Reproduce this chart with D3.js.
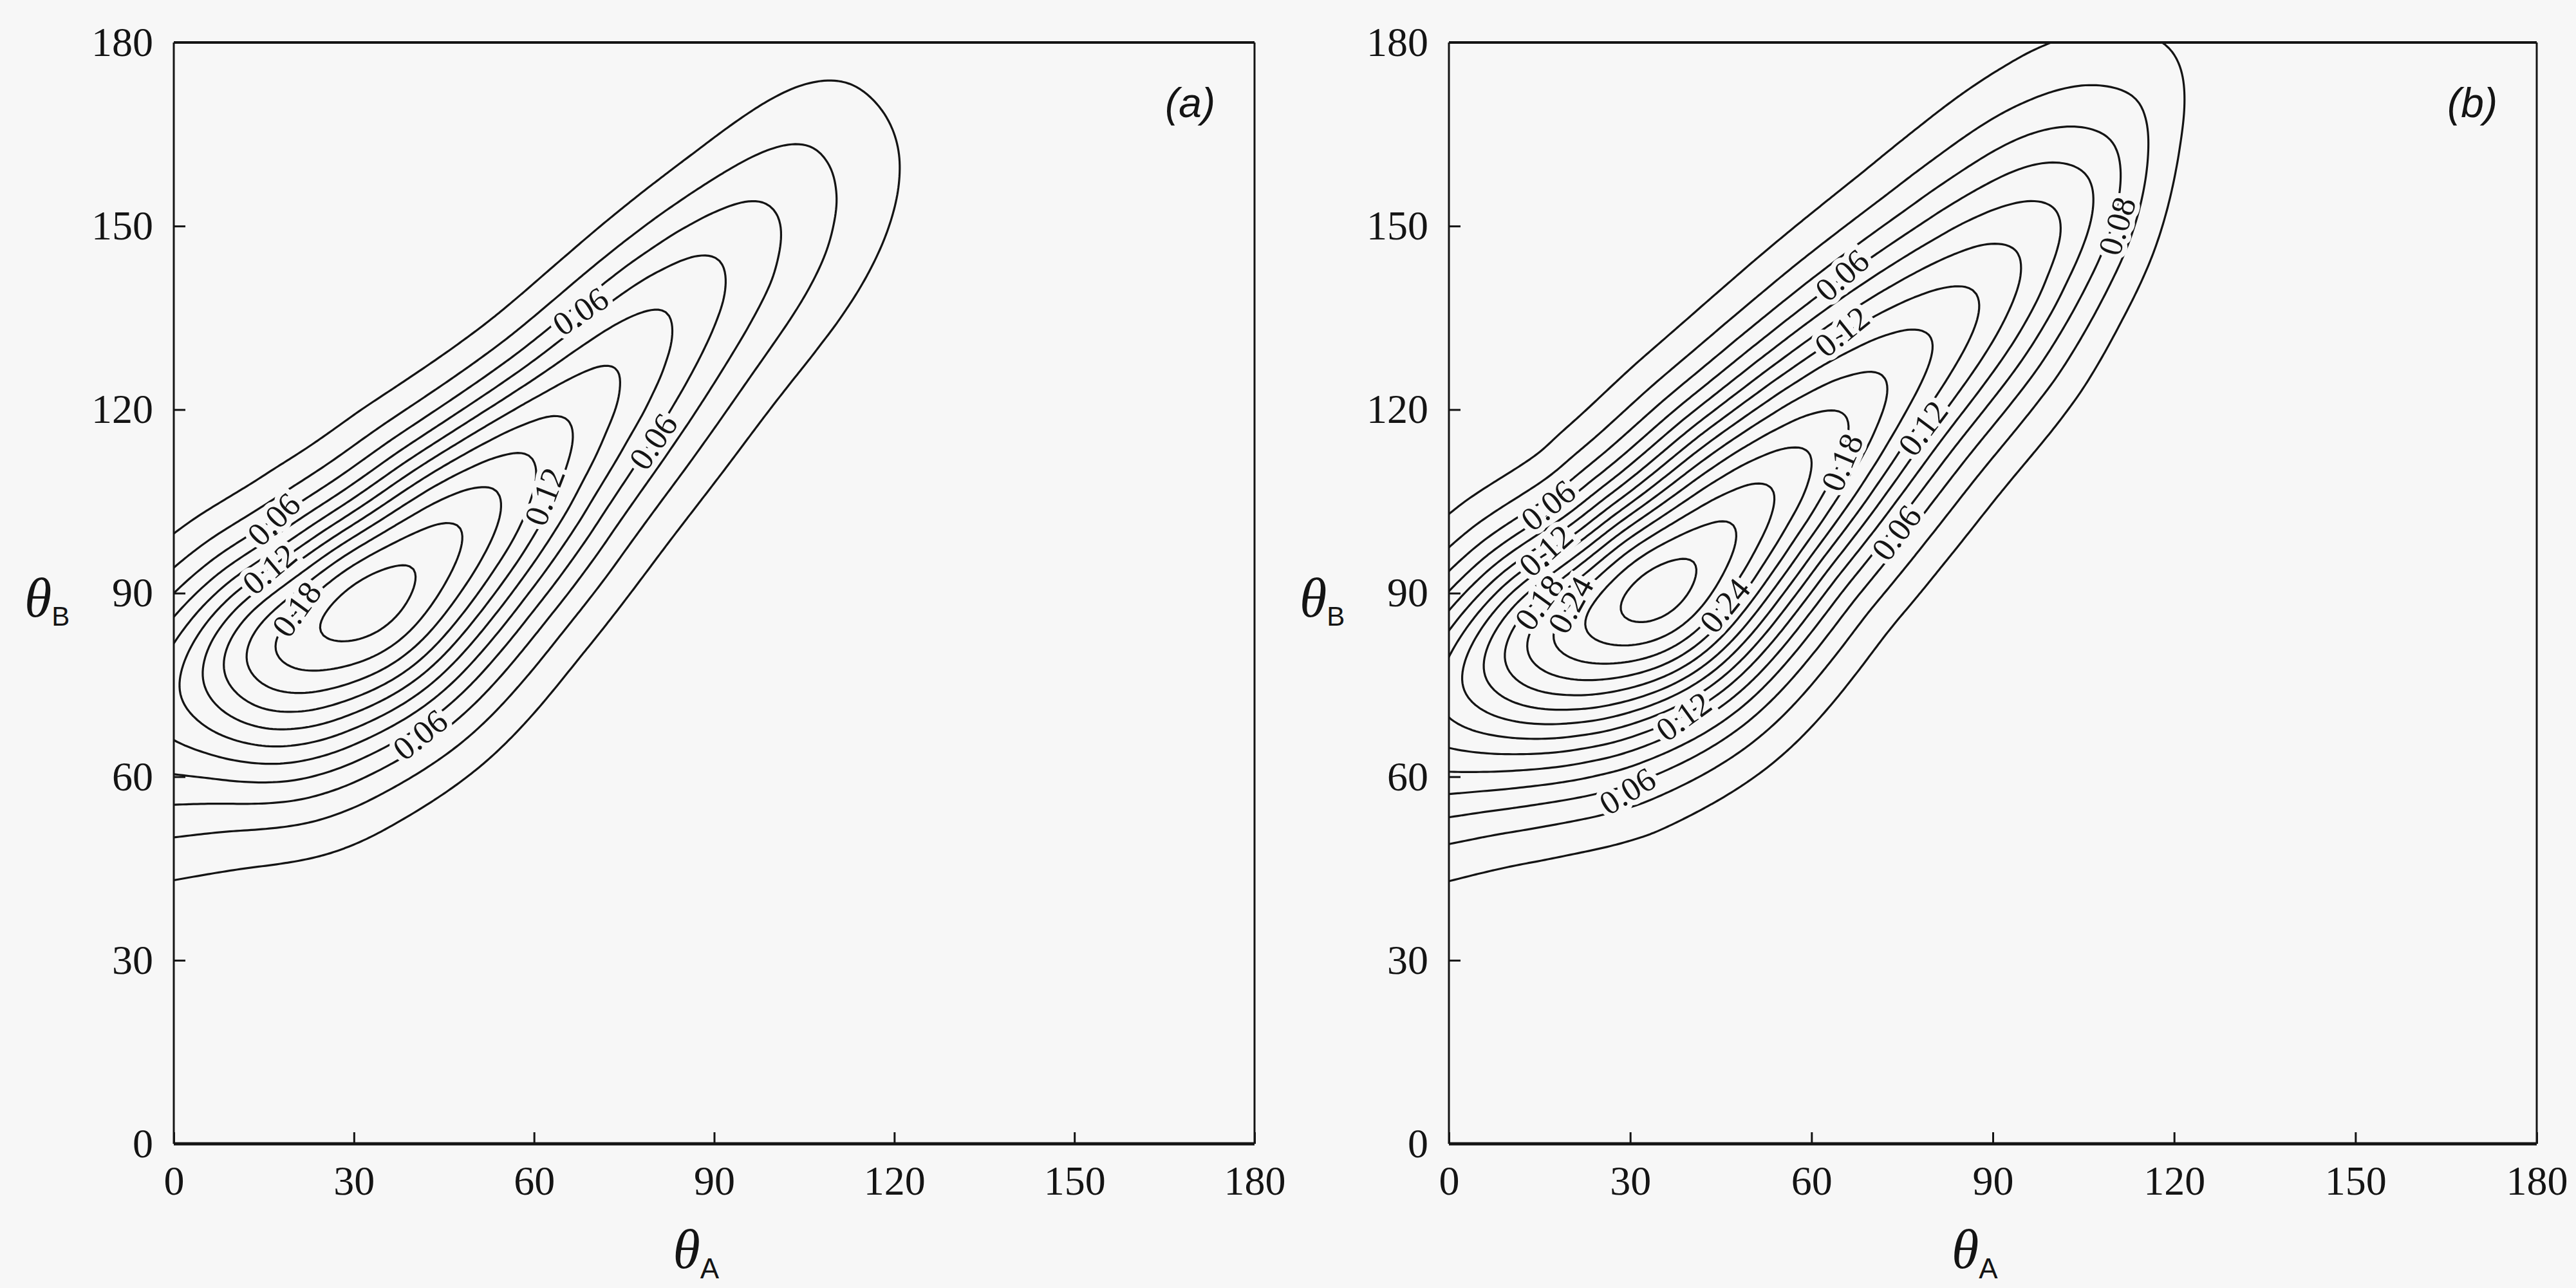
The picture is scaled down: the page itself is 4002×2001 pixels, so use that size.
<!DOCTYPE html>
<html>
<head>
<meta charset="utf-8">
<script src="https://cdn.jsdelivr.net/npm/d3@7"></script>
<style>
body { margin: 0; background: #f7f7f7; }
svg { display: block; }
</style>
</head>
<body>
<script>
// tick values on both axes (degrees)
var ticks = [0, 30, 60, 90, 120, 150, 180];

// contour levels drawn in each panel
var levelsA = [0.02, 0.04, 0.06, 0.08, 0.10, 0.12, 0.14, 0.16, 0.18, 0.20, 0.22];
var levelsB = [0.02, 0.04, 0.06, 0.08, 0.10, 0.12, 0.14, 0.16, 0.18, 0.20, 0.22, 0.24, 0.26, 0.28];

// panel (a): ridge of the density
// spine points (thetaA, thetaB), density on the spine, half-width on upper / lower side
var aSpineA = [-30, -12, 0, 15, 32, 48, 65, 82, 98, 110, 122];
var aSpineB = [56.5, 65.5, 71.5, 79, 88, 101.5, 118, 136, 152, 166, 182];
var aPeak   = [0.04, 0.08, 0.11, 0.20, 0.24, 0.20, 0.14, 0.10, 0.063, 0.032, 0.0];
var aWidthUp = [12, 12, 12, 12, 12.2, 11.6, 10.4, 9.8, 9.8, 10, 10];
var aWidthLo = [15, 15, 16, 16, 14.6, 13.6, 13, 13, 13.5, 14, 14];

// panel (b)
var bSpineA = [-30, -12, 0, 15, 33.6, 52, 70, 88, 102, 112, 122];
var bSpineB = [55, 65, 72, 80.5, 89.6, 106, 123.5, 140, 155, 170, 190];
var bPeak   = [0.05, 0.10, 0.145, 0.235, 0.302, 0.245, 0.185, 0.138, 0.095, 0.042, 0.0];
var bWidthUp = [11.5, 11.5, 11.5, 12.3, 13, 13.4, 13.4, 13.7, 13.8, 14, 14];
var bWidthLo = [13.7, 13.9, 15, 16, 14.6, 13.4, 13, 12.2, 10, 8, 8];

// contour labels: text, thetaA, thetaB, angle
var aLabels = [
  ['0.06', 67.7, 136.1, -34],
  ['0.06', 79.8, 114.8, -56],
  ['0.12', 61.7, 105.8, -69],
  ['0.06', 16.6, 102.1, -45],
  ['0.12', 15.9, 94.0, -40],
  ['0.18', 20.4, 87.4, -54],
  ['0.06', 41.0, 66.9, -39]
];
var bLabels = [
  ['0.06', 65.0, 142.0, -42],
  ['0.12', 65.0, 132.8, -39],
  ['0.18', 65.0, 111.4, -67],
  ['0.12', 78.4, 117.0, -53],
  ['0.06', 74.0, 99.9, -53],
  ['0.08', 110.5, 150.0, -73],
  ['0.06', 16.4, 104.4, -39],
  ['0.12', 16.0, 97.0, -42],
  ['0.18', 14.9, 88.5, -54],
  ['0.24', 20.1, 88.1, -61],
  ['0.24', 45.6, 88.0, -51],
  ['0.12', 38.8, 69.9, -36],
  ['0.06', 29.5, 57.7, -32]
];

var W = 4002, H = 2001;
var bg = '#f7f7f7', ink = '#141414';
var serif = '"Liberation Serif", "Times New Roman", serif';
var sans = '"Liberation Sans", Arial, sans-serif';

var svg = d3.select('body').append('svg')
  .attr('width', W)
  .attr('height', H);
svg.append('rect').attr('width', W).attr('height', H).attr('fill', bg);

var yTop = 66, yBottom = 1777;
var panels = [
  { id: 'a', left: 270, right: 1949, spineA: aSpineA, spineB: aSpineB, peak: aPeak,
    wUp: aWidthUp, wLo: aWidthLo, levels: levelsA, labels: aLabels },
  { id: 'b', left: 2251, right: 3941, spineA: bSpineA, spineB: bSpineB, peak: bPeak,
    wUp: bWidthUp, wLo: bWidthLo, levels: levelsB, labels: bLabels }
];

// grid for the density, a bit larger than the frame so clipping hides the edges
var g0 = -6, step = 0.6;
var n = Math.round((186 - g0) / step) + 1;

function densityGrid(p) {
  var line = d3.line().curve(d3.curveCatmullRom.alpha(0.5));
  var tmp = svg.append('path').attr('fill', 'none').attr('d', line(d3.zip(p.spineA, p.spineB)));
  var node = tmp.node(), len = node.getTotalLength();
  var sx = [], sy = [];
  for (var l = 0; l <= len; l += 0.4) {
    var q = node.getPointAtLength(l);
    sx.push(q.x); sy.push(q.y);
  }
  tmp.remove();
  var m = sx.length, tx = [], ty = [];
  for (var k = 0; k < m; k++) {
    var k0 = Math.max(0, k - 2), k1 = Math.min(m - 1, k + 2);
    var dx = sx[k1] - sx[k0], dy = sy[k1] - sy[k0], d = Math.hypot(dx, dy);
    tx.push(dx / d); ty.push(dy / d);
  }
  var peak = d3.scaleLinear().domain(p.spineA).range(p.peak).clamp(true);
  var wUp = d3.scaleLinear().domain(p.spineA).range(p.wUp).clamp(true);
  var wLo = d3.scaleLinear().domain(p.spineA).range(p.wLo).clamp(true);
  var pk = sx.map(peak), wu = sx.map(wUp), wl = sx.map(wLo);
  // soften the corners of the piecewise profiles
  if (d3.blur) { d3.blur(pk, 10); d3.blur(wu, 16); d3.blur(wl, 16); }

  var values = new Float64Array(n * n);
  for (var j = 0; j < n; j++) {
    var b = g0 + j * step;
    for (var i = 0; i < n; i++) {
      var a = g0 + i * step, best = Infinity, bk = 0;
      for (var k = 0; k < m; k++) {
        var ex = a - sx[k], ey = b - sy[k], d2 = ex * ex + ey * ey;
        if (d2 < best) { best = d2; bk = k; }
      }
      var cross = tx[bk] * (b - sy[bk]) - ty[bk] * (a - sx[bk]);
      var w = cross > 0 ? wu[bk] : wl[bk];
      values[i + j * n] = pk[bk] * Math.exp(-best / (2 * w * w));
    }
  }
  if (d3.blur2) d3.blur2({ data: values, width: n, height: n }, 2);
  return Array.from(values);
}

panels.forEach(function(p) {
  var xs = d3.scaleLinear().domain([0, 180]).range([p.left, p.right]);
  var ys = d3.scaleLinear().domain([0, 180]).range([yBottom, yTop]);
  var g = svg.append('g');

  g.append('clipPath').attr('id', 'clip-' + p.id)
    .append('rect')
    .attr('x', p.left).attr('y', yTop)
    .attr('width', p.right - p.left).attr('height', yBottom - yTop);

  var proj = d3.geoTransform({
    point: function(x, y) { this.stream.point(xs(g0 + x * step), ys(g0 + y * step)); }
  });
  var path = d3.geoPath(proj);

  var values = densityGrid(p);
  var contours = d3.contours().size([n, n]).thresholds(p.levels)(values);

  g.append('g')
    .attr('clip-path', 'url(#clip-' + p.id + ')')
    .selectAll('path')
    .data(contours)
    .enter().append('path')
    .attr('d', path)
    .attr('fill', 'none')
    .attr('stroke', ink)
    .attr('stroke-width', 3.2)
    .attr('stroke-linejoin', 'round');

  // contour labels with a halo that breaks the line
  g.append('g').selectAll('text')
    .data(p.labels)
    .enter().append('text')
    .attr('transform', d => 'translate(' + xs(d[1]) + ',' + ys(d[2]) + ') rotate(' + d[3] + ')')
    .attr('text-anchor', 'middle')
    .attr('dy', '0.35em')
    .attr('font-family', serif)
    .attr('font-size', 52)
    .attr('fill', ink)
    .attr('stroke', bg)
    .attr('stroke-width', 16)
    .attr('paint-order', 'stroke')
    .text(d => d[0]);

  // frame
  var frame = g.append('g').attr('stroke', ink).attr('fill', 'none');
  frame.append('line').attr('x1', p.left).attr('x2', p.right).attr('y1', yTop).attr('y2', yTop).attr('stroke-width', 4);
  frame.append('line').attr('x1', p.left).attr('x2', p.right).attr('y1', yBottom).attr('y2', yBottom).attr('stroke-width', 5);
  frame.append('line').attr('x1', p.left).attr('x2', p.left).attr('y1', yTop).attr('y2', yBottom).attr('stroke-width', 3);
  frame.append('line').attr('x1', p.right).attr('x2', p.right).attr('y1', yTop).attr('y2', yBottom).attr('stroke-width', 3);

  // axes: inward ticks, labels outside
  var xAxis = d3.axisBottom(xs).tickValues(ticks).tickSizeInner(-18).tickSizeOuter(0).tickPadding(34);
  var yAxis = d3.axisLeft(ys).tickValues(ticks).tickSizeInner(-18).tickSizeOuter(0).tickPadding(32);

  var gx = g.append('g').attr('transform', 'translate(0,' + yBottom + ')').call(xAxis);
  var gy = g.append('g').attr('transform', 'translate(' + p.left + ',0)').call(yAxis);
  [gx, gy].forEach(function(ax) {
    ax.select('.domain').remove();
    ax.selectAll('line').attr('stroke', ink).attr('stroke-width', 3);
    ax.selectAll('text').attr('fill', ink).attr('font-size', 64).attr('font-family', serif);
  });

  // axis titles
  var tx = g.append('text')
    .attr('x', (p.left + p.right) / 2 - 64)
    .attr('y', 1970)
    .attr('font-family', serif)
    .attr('font-style', 'italic')
    .attr('font-size', 86)
    .attr('fill', ink)
    .text('θ');
  tx.append('tspan').attr('font-family', sans).attr('font-style', 'normal')
    .attr('font-size', 44).attr('dy', 16).text('A');

  var ty = g.append('text')
    .attr('x', p.left - 232)
    .attr('y', 958)
    .attr('font-family', serif)
    .attr('font-style', 'italic')
    .attr('font-size', 86)
    .attr('fill', ink)
    .text('θ');
  ty.append('tspan').attr('font-family', sans).attr('font-style', 'normal')
    .attr('font-size', 42).attr('dy', 14).text('B');

  // panel tag
  g.append('text')
    .attr('x', p.right - 100)
    .attr('y', 182)
    .attr('text-anchor', 'middle')
    .attr('font-family', sans)
    .attr('font-style', 'italic')
    .attr('font-size', 64)
    .attr('fill', ink)
    .text('(' + p.id + ')');
});
</script>
</body>
</html>
